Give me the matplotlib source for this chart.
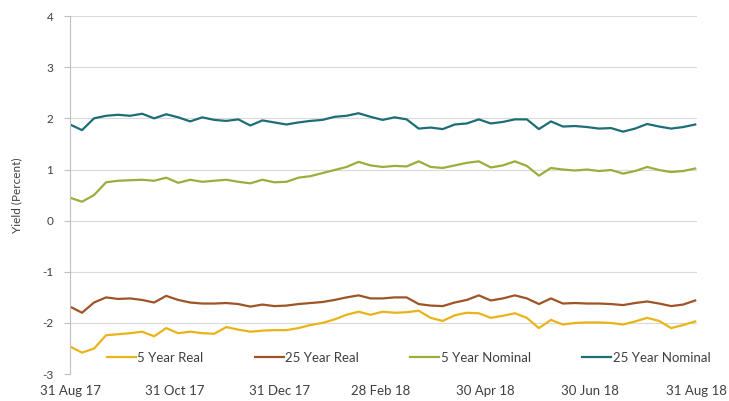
import matplotlib
matplotlib.use("Agg")
import matplotlib.pyplot as plt
import matplotlib.dates as mdates
import pandas as pd

# weekly readings, 31 Aug 17 -> 30 Aug 18
dates = pd.date_range("2017-08-31", periods=53, freq="7D")

real_5y = [-2.46, -2.58, -2.50, -2.24, -2.22, -2.20, -2.17, -2.26, -2.10, -2.20,
           -2.17, -2.20, -2.21, -2.08, -2.13, -2.17, -2.15, -2.14, -2.14, -2.10,
           -2.04, -2.00, -1.93, -1.84, -1.78, -1.84, -1.78, -1.80, -1.79, -1.76,
           -1.90, -1.96, -1.85, -1.80, -1.81, -1.90, -1.86, -1.81, -1.90, -2.10,
           -1.94, -2.03, -2.00, -1.99, -1.99, -2.00, -2.03, -1.97, -1.90, -1.96,
           -2.10, -2.04, -1.97]

real_25y = [-1.68, -1.80, -1.60, -1.50, -1.53, -1.52, -1.55, -1.60, -1.47, -1.55,
            -1.60, -1.62, -1.62, -1.61, -1.63, -1.68, -1.64, -1.67, -1.66, -1.63,
            -1.61, -1.59, -1.55, -1.50, -1.46, -1.52, -1.52, -1.50, -1.50, -1.63,
            -1.66, -1.67, -1.60, -1.55, -1.46, -1.56, -1.52, -1.46, -1.52, -1.63,
            -1.52, -1.62, -1.61, -1.62, -1.62, -1.63, -1.65, -1.61, -1.58, -1.62,
            -1.67, -1.64, -1.56]

nominal_5y = [0.45, 0.37, 0.50, 0.75, 0.78, 0.79, 0.80, 0.78, 0.84, 0.74,
              0.80, 0.76, 0.78, 0.80, 0.76, 0.73, 0.80, 0.75, 0.76, 0.84,
              0.87, 0.93, 0.99, 1.05, 1.15, 1.08, 1.05, 1.07, 1.06, 1.16,
              1.05, 1.03, 1.08, 1.13, 1.16, 1.04, 1.08, 1.16, 1.07, 0.88,
              1.03, 1.00, 0.98, 1.00, 0.97, 0.99, 0.92, 0.97, 1.05, 0.99,
              0.95, 0.97, 1.02]

nominal_25y = [1.88, 1.77, 2.00, 2.05, 2.07, 2.05, 2.09, 2.00, 2.08, 2.02,
               1.94, 2.02, 1.97, 1.95, 1.98, 1.86, 1.96, 1.92, 1.88, 1.92,
               1.95, 1.97, 2.03, 2.05, 2.10, 2.03, 1.97, 2.02, 1.98, 1.80,
               1.82, 1.79, 1.88, 1.90, 1.98, 1.90, 1.93, 1.98, 1.98, 1.79,
               1.94, 1.84, 1.85, 1.83, 1.80, 1.81, 1.74, 1.80, 1.89, 1.84,
               1.80, 1.83, 1.88]

tick_dates = pd.to_datetime(["2017-08-31", "2017-10-31", "2017-12-31", "2018-02-28",
                             "2018-04-30", "2018-06-30", "2018-08-31"])

plt.rcParams['font.family'] = ['Lato', 'DejaVu Sans']
plt.rcParams['axes.unicode_minus'] = False

fig = plt.figure(figsize=(7.29, 4.01), dpi=100)
ax = fig.add_axes([0.096, 0.067, 0.86, 0.893])

ax.plot(dates, real_5y, color="#E9B418", lw=1.6, label="5 Year Real")
ax.plot(dates, real_25y, color="#9E5424", lw=1.6, label="25 Year Real")
ax.plot(dates, nominal_5y, color="#9AAE3C", lw=1.6, label="5 Year Nominal")
ax.plot(dates, nominal_25y, color="#1D6E76", lw=1.6, label="25 Year Nominal")

ax.set_ylim(-3, 4)
ax.set_xlim(tick_dates[0], tick_dates[-1])
ax.set_yticks(range(-3, 5))
ax.set_xticks(tick_dates)
ax.xaxis.set_major_formatter(mdates.DateFormatter("%d %b %y"))

ax.grid(axis="y", color="#D9D9D9", lw=0.8)
ax.set_axisbelow(True)
for s in ["top", "right", "bottom"]:
    ax.spines[s].set_visible(False)
ax.spines["left"].set_color("#BFBFBF")
ax.tick_params(axis="y", colors="#BFBFBF", labelcolor="#404040", labelsize=8.5,
               length=4, pad=8)
ax.tick_params(axis="x", length=0, labelcolor="#404040", labelsize=9.5, pad=8)

ax.set_ylabel("Yield (Percent)", fontsize=8.5, color="#404040", labelpad=14)

ax.legend(loc="center", bbox_to_anchor=(0.54, 0.045), ncol=4, frameon=False,
          fontsize=9.5, handlelength=2.2, handletextpad=0.1, columnspacing=3.9,
          labelcolor="#404040")

fig.savefig("out.png", dpi=100)
